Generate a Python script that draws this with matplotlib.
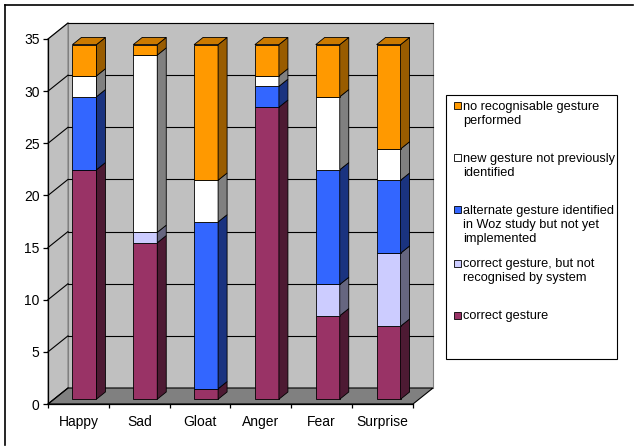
import matplotlib
matplotlib.use("Agg")
import matplotlib.pyplot as plt
from matplotlib.patches import Rectangle, Polygon
from matplotlib.lines import Line2D
import numpy as np

plt.rcParams['font.family'] = ['Liberation Sans', 'DejaVu Sans']

# datos
emociones = ['Happy', 'Sad', 'Gloat', 'Anger', 'Fear', 'Surprise']
correct = [22, 15, 1, 28, 8, 7]
correct_not_recognised = [0, 1, 0, 0, 3, 7]
alternate = [7, 0, 16, 2, 11, 7]
new_gesture = [2, 17, 4, 1, 7, 3]
no_gesture = [3, 1, 13, 3, 5, 10]

series = [correct, correct_not_recognised, alternate, new_gesture, no_gesture]
colores = ['#993366', '#CCCCFF', '#3366FF', '#FFFFFF', '#FF9900']
etiquetas = ['correct gesture',
             'correct gesture, but not\nrecognised by system',
             'alternate gesture identified\nin Woz study but not yet\nimplemented',
             'new gesture not previously\nidentified',
             'no recognisable gesture\nperformed']

W, H = 634, 448
fig = plt.figure(figsize=(W / 100, H / 100), dpi=100)

def fx(x):
    return x / W

def fy(y):
    return 1 - y / H

# eje frontal en pixeles
x0, x1, y0, y1 = 48, 413, 404, 39
ax = fig.add_axes([fx(x0), fy(y0), (x1 - x0) / W, (y0 - y1) / H])
n = len(emociones)
ymax = 35
ax.set_xlim(0, n)
ax.set_ylim(0, ymax)
ax.patch.set_alpha(0)

ux = n / (x1 - x0)
uy = ymax / (y0 - y1)
dX, dY = 20 * ux, 16 * uy  # profundidad del "3D"

# paredes y piso
pared = '#C0C0C0'
ax.add_patch(Rectangle((dX, dY), n, ymax, facecolor=pared, edgecolor='#808080',
                       lw=0.8, zorder=0, clip_on=False))
ax.add_patch(Polygon([(0, 0), (dX, dY), (dX, ymax + dY), (0, ymax)], closed=True,
                     facecolor=pared, edgecolor='#808080', lw=0.8, zorder=0, clip_on=False))
ax.add_patch(Polygon([(0, 0), (n, 0), (n + dX, dY), (dX, dY)], closed=True,
                     facecolor='#808080', edgecolor='black', lw=0.8, zorder=1, clip_on=False))

for yv in range(0, ymax + 1, 5):
    if yv > 0:
        ax.plot([dX, n + dX], [yv + dY, yv + dY], color='black', lw=0.8, zorder=1, clip_on=False)
    ax.plot([0, dX], [yv, yv + dY], color='black', lw=0.8, zorder=1, clip_on=False)

# barras apiladas con caras laterales
ancho = 24 * ux
f1 = 0.3
prof = 0.45
ox, oy = f1 * dX, f1 * dY
ddx, ddy = prof * dX, prof * dY

def oscuro(c, k):
    rgb = np.array(matplotlib.colors.to_rgb(c))
    return tuple(rgb * k)

base = np.zeros(n)
for s, col in zip(series, colores):
    vals = np.array(s, dtype=float)
    centros = np.arange(n) + 0.5 + ox
    ax.bar(centros, vals, width=ancho, bottom=base + oy, color=col,
           edgecolor='black', lw=0.6, zorder=3, clip_on=False)
    lado = oscuro(col, 0.6 if col == '#FF9900' else 0.5)
    for i in range(n):
        if vals[i] <= 0:
            continue
        xr = centros[i] + ancho / 2
        b, t = base[i] + oy, base[i] + vals[i] + oy
        ax.add_patch(Polygon([(xr, b), (xr + ddx, b + ddy), (xr + ddx, t + ddy), (xr, t)],
                             closed=True, facecolor=lado, edgecolor='black', lw=0.6,
                             zorder=3, clip_on=False))
    base = base + vals

# cara superior
for i in range(n):
    xl = i + 0.5 + ox - ancho / 2
    xr = xl + ancho
    t = base[i] + oy
    ax.add_patch(Polygon([(xl, t), (xr, t), (xr + ddx, t + ddy), (xl + ddx, t + ddy)],
                         closed=True, facecolor=oscuro(colores[-1], 0.8), edgecolor='black',
                         lw=0.6, zorder=3, clip_on=False))

# ejes
for lado_spine in ['top', 'right']:
    ax.spines[lado_spine].set_visible(False)
ax.spines['left'].set_linewidth(0.9)
ax.spines['bottom'].set_linewidth(0.9)
ax.spines['left'].set_zorder(4)
ax.spines['bottom'].set_zorder(4)

ax.set_yticks(range(0, ymax + 1, 5))
ax.tick_params(axis='y', direction='out', length=3.6, width=0.9, pad=2.5, labelsize=10)
ax.set_xticks(range(n + 1))
ax.set_xticklabels([])
ax.set_xticks(np.arange(n) + 0.5, minor=True)
ax.set_xticklabels(emociones, minor=True)
ax.tick_params(axis='x', which='major', direction='out', length=3, width=0.9)
ax.tick_params(axis='x', which='minor', length=0, pad=8, labelsize=10)

# leyenda (manual, al estilo Excel)
fig.add_artist(Rectangle((fx(446), fy(359)), (617 - 446) / W, (359 - 95) / H,
                         transform=fig.transFigure, facecolor='white', edgecolor='black', lw=0.8))
filas = [106, 158, 210, 263, 315]
for yl, col, lab in zip(filas, colores[::-1], etiquetas[::-1]):
    fig.add_artist(Rectangle((fx(454), fy(yl + 3.5)), 7 / W, 7 / H, transform=fig.transFigure,
                             facecolor=col, edgecolor='black', lw=0.6))
    fig.text(fx(463), fy(yl - 5), lab, ha='left', va='top', fontsize=9.2, linespacing=1.22)

# marco exterior
fig.add_artist(Line2D([fx(5), fx(633)], [fy(5), fy(5)], color='black', lw=1.2, transform=fig.transFigure))
fig.add_artist(Line2D([fx(5), fx(5)], [fy(5), fy(445)], color='black', lw=1.2, transform=fig.transFigure))

fig.savefig('out.png', dpi=100, facecolor='white')
